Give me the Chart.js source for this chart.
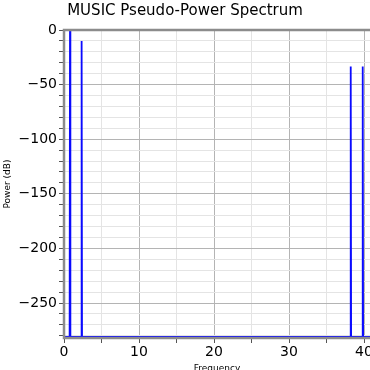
<!DOCTYPE html>
<html>
<head>
<meta charset="utf-8">
<script src="https://cdn.jsdelivr.net/npm/chart.js@4"></script>
<style>
  html, body { margin: 0; padding: 0; background: #fff; }
  canvas { display: block; }
</style>
</head>
<body>
<canvas id="chart" width="370" height="370"></canvas>
<script>
// MUSIC pseudo-spectrum
const freqHz  = [0, 0.75, 0.8, 0.85, 2.3, 2.35, 2.4, 38.18, 38.23, 38.28, 39.78, 39.83, 39.88, 40.8];
const powerDb = [-281, -281, 0, -281, -281, -10, -281, -281, -33.5, -281, -281, -33.5, -281, -281];

const xTicks = [0, 5, 10, 15, 20, 25, 30, 35, 40];
const yTicks = [0, -10, -20, -30, -40, -50, -60, -70, -80, -90, -100, -110, -120, -130, -140,
  -150, -160, -170, -180, -190, -200, -210, -220, -230, -240, -250, -260, -270, -280];

const FONT = "'DejaVu Sans', sans-serif";

const frame = {
  id: 'frame',
  afterDatasetsDraw(chart) {
    const { ctx, chartArea: a } = chart;
    ctx.save();
    ctx.strokeStyle = '#8c8c8c';
    ctx.lineWidth = 2.5;
    ctx.beginPath();
    ctx.moveTo(a.right + 2, a.top);
    ctx.lineTo(a.left, a.top);
    ctx.lineTo(a.left, a.bottom);
    ctx.lineTo(a.right + 2, a.bottom);
    ctx.stroke();
    ctx.restore();
  }
};

const dataset = {
  data: freqHz.map((f, i) => ({ x: f, y: powerDb[i] })),
  borderColor: '#0a0aff',
  borderWidth: 1.8,
  pointRadius: 0,
  showLine: true,
  tension: 0,
};

new Chart(document.getElementById('chart'), {
  type: 'scatter',
  data: { datasets: [dataset] },
  plugins: [frame],
  options: {
    responsive: false,
    animation: false,
    layout: { padding: 0 },
    plugins: {
      legend: { display: false },
      tooltip: { enabled: false },
      title: {
        display: true,
        text: 'MUSIC Pseudo-Power Spectrum',
        color: '#000',
        font: { family: FONT, size: 15, weight: 'normal', lineHeight: 1.2 },
        padding: { top: 2, bottom: 10 },
      },
    },
    scales: {
      x: {
        type: 'linear',
        min: 0,
        max: 40.8,
        afterBuildTicks: s => { s.ticks = xTicks.map(v => ({ value: v })); },
        afterFit: s => { s.height = 32; s.paddingLeft = 0; s.paddingRight = 0; },
        ticks: {
          autoSkip: false,
          maxRotation: 0,
          padding: 1,
          color: '#000',
          font: { family: FONT, size: 14 },
          callback: v => (v % 10 === 0 ? String(v) : ''),
        },
        grid: {
          color: c => (c.tick && c.tick.value % 10 === 0 ? '#b4b4b4' : '#e4e4e4'),
          tickColor: '#555',
          tickLength: 5,
          lineWidth: 1,
        },
        border: { display: false },
        title: {
          display: true,
          text: 'Frequency',
          color: '#000',
          font: { family: FONT, size: 9 },
          padding: { top: 0, bottom: -4 },
        },
      },
      y: {
        type: 'linear',
        min: -282,
        max: 0,
        afterBuildTicks: s => { s.ticks = yTicks.map(v => ({ value: v })); },
        afterFit: s => { s.width = 64; s.paddingTop = 0; s.paddingBottom = 0; },
        ticks: {
          autoSkip: false,
          padding: 2,
          color: '#000',
          font: { family: FONT, size: 14 },
          callback: v => (v % 50 === 0 ? String(v).replace('-', '\u2212') : ''),
        },
        grid: {
          color: c => (c.tick && c.tick.value % 50 === 0 ? '#b4b4b4' : '#e4e4e4'),
          tickColor: '#555',
          tickLength: 5,
          lineWidth: 1,
        },
        border: { display: false },
        title: {
          display: true,
          text: 'Power (dB)',
          color: '#000',
          font: { family: FONT, size: 9 },
          padding: { top: 2, bottom: 0 },
        },
      },
    },
  },
});
</script>
</body>
</html>
